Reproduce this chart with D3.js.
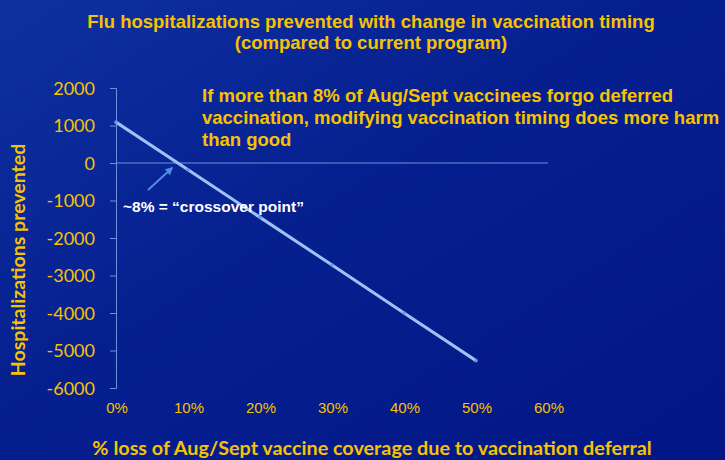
<!DOCTYPE html>
<html>
<head>
<meta charset="utf-8">
<script src="https://cdn.jsdelivr.net/npm/d3@7"></script>
<style>
  body { margin: 0; background: #03198a; }
  svg { display: block; }
</style>
</head>
<body>
<div id="chart"></div>
<script>
// Data
const lossPct = [0, 0.1, 0.2, 0.3, 0.4, 0.5];
const hospPrevented = [1090, -180, -1450, -2720, -4000, -5270];
const yTicks = [2000, 1000, 0, -1000, -2000, -3000, -4000, -5000, -6000];
const xTicks = [0, 0.1, 0.2, 0.3, 0.4, 0.5, 0.6];
const titleLines = ["Flu hospitalizations prevented with change in vaccination timing", "(compared to current program)"];
const noteLines = ["If more than 8% of Aug/Sept vaccinees forgo deferred", "vaccination, modifying vaccination timing does more harm", "than good"];

const W = 725, H = 460;
const margin = { top: 88, right: 177, bottom: 72, left: 116 };
const yellow = "#f7c200";

const svg = d3.select("#chart").append("svg")
  .attr("width", W)
  .attr("height", H);

// background
const defs = svg.append("defs");
const grad = defs.append("linearGradient")
  .attr("id", "bg")
  .attr("x1", "0").attr("y1", "0").attr("x2", "1").attr("y2", "1");
grad.append("stop").attr("offset", "0%").attr("stop-color", "#0e31a0");
grad.append("stop").attr("offset", "45%").attr("stop-color", "#061f8f");
grad.append("stop").attr("offset", "100%").attr("stop-color", "#021685");
svg.append("rect").attr("width", W).attr("height", H).attr("fill", "url(#bg)");

const x = d3.scaleLinear().domain([0, 0.6]).range([margin.left, W - margin.right]);
const y = d3.scaleLinear().domain([-6000, 2000]).range([H - margin.bottom, margin.top]);

// title
svg.append("text")
  .attr("x", 371).attr("y", 28)
  .attr("text-anchor", "middle")
  .style("font-family", "Liberation Sans, Arial, sans-serif")
  .style("font-weight", "bold")
  .style("font-size", "18.5px")
  .style("fill", yellow)
  .selectAll("tspan")
  .data(titleLines)
  .enter()
  .append("tspan")
  .attr("x", 371)
  .attr("dy", (d, i) => i === 0 ? 0 : 21)
  .text(d => d);

// y axis
const yAxis = d3.axisLeft(y).tickValues(yTicks).tickSize(6).tickSizeOuter(6).tickFormat(d3.format("d"));
const gy = svg.append("g")
  .attr("transform", `translate(${margin.left},0)`)
  .call(yAxis);
gy.select(".domain").attr("stroke", "#6f8fe0");
gy.selectAll(".tick line").attr("stroke", "#6f8fe0");
gy.selectAll(".tick text")
  .attr("x", -21)
  .attr("dy", "0.36em")
  .style("font-family", "Lato, Open Sans, sans-serif")
  .style("font-size", "18px")
  .style("fill", yellow)
  .text(d => d < 0 ? "-" + Math.abs(d) : d);

// x axis line at zero
svg.append("line")
  .attr("x1", x(0)).attr("x2", x(0.6))
  .attr("y1", y(0)).attr("y2", y(0))
  .attr("stroke", "#6f8fe0")
  .attr("stroke-width", 1);

// x tick labels along the bottom
svg.selectAll("text.xtick")
  .data(xTicks)
  .enter()
  .append("text")
  .attr("class", "xtick")
  .attr("x", d => x(d) + 1)
  .attr("y", H - margin.bottom + 25)
  .attr("text-anchor", "middle")
  .style("font-family", "Liberation Sans, Arial, sans-serif")
  .style("font-size", "15px")
  .style("fill", yellow)
  .text(d3.format(".0%"));

// axis titles
svg.append("text")
  .attr("transform", `translate(25,${(y(2000) + y(-6000)) / 2 + 22}) rotate(-90)`)
  .attr("text-anchor", "middle")
  .style("font-family", "Lato, Open Sans, sans-serif")
  .style("font-weight", "bold")
  .style("font-size", "19.5px")
  .style("fill", yellow)
  .text("Hospitalizations prevented");

svg.append("text")
  .attr("x", 372).attr("y", 455)
  .attr("text-anchor", "middle")
  .style("font-family", "Lato, Open Sans, sans-serif")
  .style("font-weight", "bold")
  .style("font-size", "19.8px")
  .style("fill", yellow)
  .text("% loss of Aug/Sept vaccine coverage due to vaccination deferral");

// data line
const line = d3.line()
  .x((d, i) => x(lossPct[i]))
  .y(d => y(d));
svg.append("path")
  .datum(hospPrevented)
  .attr("d", line)
  .attr("fill", "none")
  .attr("stroke", "#9fc2f4")
  .attr("stroke-width", 3);

svg.selectAll("circle.pt")
  .data(hospPrevented)
  .enter()
  .append("circle")
  .attr("class", "pt")
  .attr("cx", (d, i) => x(lossPct[i]))
  .attr("cy", d => y(d))
  .attr("r", 1.8)
  .attr("fill", "#5f9af0");

// note text
svg.append("text")
  .attr("x", 202).attr("y", 102)
  .style("font-family", "Liberation Sans, Arial, sans-serif")
  .style("font-weight", "bold")
  .style("font-size", "18.5px")
  .style("fill", yellow)
  .selectAll("tspan")
  .data(noteLines)
  .enter()
  .append("tspan")
  .attr("x", 202)
  .attr("dy", (d, i) => i === 0 ? 0 : 22)
  .text(d => d);

// crossover annotation
defs.append("marker")
  .attr("id", "arrow")
  .attr("viewBox", "0 0 10 10")
  .attr("refX", 8).attr("refY", 5)
  .attr("markerWidth", 4).attr("markerHeight", 4)
  .attr("orient", "auto")
  .append("path")
  .attr("d", "M0,0 L10,5 L0,10 z")
  .attr("fill", "#4f8ceb");

svg.append("line")
  .attr("x1", 148).attr("y1", 190)
  .attr("x2", 172).attr("y2", 168)
  .attr("stroke", "#4f8ceb")
  .attr("stroke-width", 2)
  .attr("marker-end", "url(#arrow)");

svg.append("text")
  .attr("x", 123).attr("y", 212)
  .style("font-family", "Liberation Sans, Arial, sans-serif")
  .style("font-weight", "bold")
  .style("font-size", "15.5px")
  .style("fill", "#ffffff")
  .text("~8% = \u201Ccrossover point\u201D");
</script>
</body>
</html>
